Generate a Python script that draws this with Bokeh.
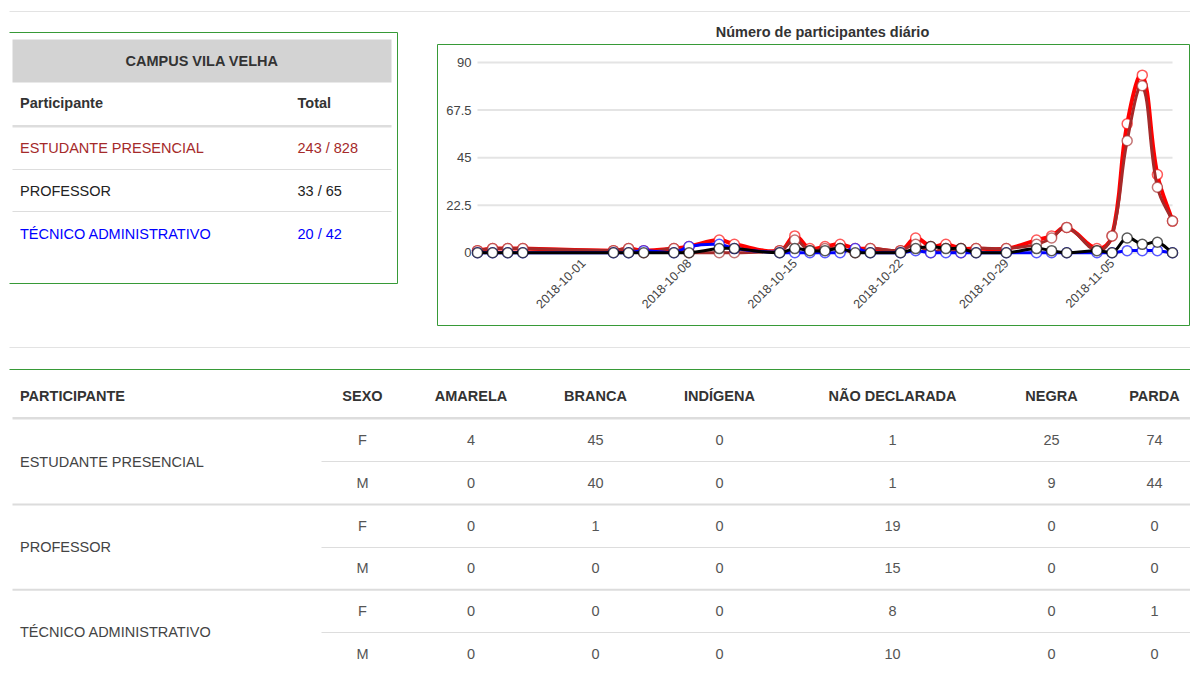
import math
from datetime import datetime
from bokeh.plotting import figure
from bokeh.models import (Range1d, LinearAxis, DatetimeAxis, FixedTicker,
                          NumeralTickFormatter, DatetimeTickFormatter)
from bokeh.core.properties import value
from bokeh.embed import file_html
from bokeh.resources import INLINE

# ---------------- data ----------------
campus_name = "CAMPUS VILA VELHA"
participants = ["ESTUDANTE PRESENCIAL", "PROFESSOR", "TÉCNICO ADMINISTRATIVO"]
present = [243, 33, 20]
enrolled = [828, 65, 42]

chart_title = "Número de participantes diário"
day_dates = ["2018-09-24", "2018-09-25", "2018-09-26", "2018-09-27", "2018-10-03",
             "2018-10-04", "2018-10-05", "2018-10-07", "2018-10-08", "2018-10-10",
             "2018-10-11", "2018-10-14", "2018-10-15", "2018-10-16", "2018-10-17",
             "2018-10-18", "2018-10-19", "2018-10-20", "2018-10-22", "2018-10-23",
             "2018-10-24", "2018-10-25", "2018-10-26", "2018-10-27", "2018-10-29",
             "2018-10-31", "2018-11-01", "2018-11-02", "2018-11-04", "2018-11-05",
             "2018-11-06", "2018-11-07", "2018-11-08", "2018-11-09"]
total_daily = [1, 2, 2, 2, 1, 2, 1, 2, 3, 6, 4, 1, 8, 2, 3, 4, 2, 2, 1, 7,
               3, 4, 2, 2, 2, 6, 8, 12, 2, 8, 61, 84, 37, 15]
estudante_daily = [1, 2, 2, 2, 1, 2, 0, 2, 0, 0, 0, 1, 6, 1, 2, 2, 0, 2, 1, 4,
                   0, 2, 0, 2, 2, 4, 7, 12, 1, 8, 53, 79, 31, 15]
professor_daily = [0, 0, 0, 0, 0, 0, 0, 0, 0, 2, 2, 0, 2, 1, 1, 2, 0, 0, 0, 2,
                   3, 2, 2, 0, 0, 2, 1, 0, 1, 0, 7, 4, 5, 0]
tecnico_daily = [0, 0, 0, 0, 0, 0, 1, 0, 3, 4, 2, 0, 0, 0, 0, 0, 2, 0, 0, 1,
                 0, 0, 0, 0, 0, 0, 0, 0, 0, 0, 1, 1, 1, 0]
y_ticks = [0, 22.5, 45, 67.5, 90]
x_tick_dates = ["2018-10-01", "2018-10-08", "2018-10-15", "2018-10-22",
                "2018-10-29", "2018-11-05"]

table_header = ["PARTICIPANTE", "SEXO", "AMARELA", "BRANCA", "INDÍGENA",
                "NÃO DECLARADA", "NEGRA", "PARDA"]
row_participant = ["ESTUDANTE PRESENCIAL", "ESTUDANTE PRESENCIAL", "PROFESSOR",
                   "PROFESSOR", "TÉCNICO ADMINISTRATIVO", "TÉCNICO ADMINISTRATIVO"]
row_sexo = ["F", "M", "F", "M", "F", "M"]
amarela = [4, 0, 0, 0, 0, 0]
branca = [45, 40, 1, 0, 0, 0]
indigena = [0, 0, 0, 0, 0, 0]
nao_declarada = [1, 1, 19, 15, 8, 10]
negra = [25, 9, 0, 0, 0, 0]
parda = [74, 44, 0, 0, 1, 0]

# ---------------- styles / layout ----------------
FONT = value("Liberation Sans")
FS = value("14.5px")
GREEN = "#379a37"
LINE_GREY = "#dddddd"
part_colors = ["#a52a2a", "#222222", "#0000ff"]

W, H = 1190, 686          # canvas size; canvas coordinates used for layout
TY = -5.5                 # text placement correction


def ms(s):
    return (datetime.strptime(s, "%Y-%m-%d") - datetime(1970, 1, 1)).total_seconds() * 1000.0


xs = [ms(d) for d in day_dates]
t0, t1 = xs[0], xs[-1]

# chart plot-area in canvas pixels
PX0, PX1 = 477.0, 1172.0
PY0, PY90 = 252.3, 62.0
px_per_ms = (PX1 - PX0) / (t1 - t0)
px_per_unit = (PY0 - PY90) / 90.0

p = figure(width=W, height=H, x_range=Range1d(0, W), y_range=Range1d(H, 0),
           output_backend="svg", toolbar_location=None, x_axis_location=None,
           y_axis_location=None, min_border=0, title=None)
p.grid.visible = False
p.outline_line_color = None
p.background_fill_color = "white"
p.border_fill_color = "white"

p.extra_x_ranges = {"date": Range1d(t0 - PX0 / px_per_ms, t1 + (W - PX1) / px_per_ms)}
p.extra_y_ranges = {"count": Range1d((PY0 - H) / px_per_unit, PY0 / px_per_unit)}

# page separators
p.segment(x0=[9, 9], y0=[11, 347], x1=[W, W], y1=[11, 347], line_color="#e3e3e3", line_width=1)

# ---------------- left summary table ----------------
p.segment(x0=[9, 397, 9], y0=[32, 32, 283], x1=[397, 397, 397], y1=[32, 283, 283],
          line_color=GREEN, line_width=1)
p.quad(left=[12], right=[391], top=[39], bottom=[82], fill_color="#d3d3d3", line_color=None)
p.text(x=[201.5], y=[65.5 + TY], text=[campus_name], text_font=FONT, text_font_size=FS,
       text_font_style="bold", text_color="#333333", text_align="center", text_baseline="alphabetic")
p.text(x=[19.5, 297], y=[108.2 + TY] * 2, text=["Participante", "Total"], text_font=FONT,
       text_font_size=FS, text_font_style="bold", text_color="#333333", text_baseline="alphabetic")
p.segment(x0=[12], y0=[125.7], x1=[391], y1=[125.7], line_color=LINE_GREY, line_width=2.5)
row_y = [152.7 + TY + 43 * i for i in range(len(participants))]
p.text(x=[19.5] * len(participants), y=row_y, text=participants, text_font=FONT, text_font_size=FS,
       text_color=part_colors, text_baseline="alphabetic")
p.text(x=[297] * len(participants), y=row_y,
       text=[f"{a} / {b}" for a, b in zip(present, enrolled)], text_font=FONT, text_font_size=FS,
       text_color=part_colors, text_baseline="alphabetic")
p.segment(x0=[12, 12], y0=[169, 211], x1=[391, 391], y1=[169, 211],
          line_color=LINE_GREY, line_width=1)

# ---------------- chart ----------------
p.segment(x0=[437, 1189, 1189, 437], y0=[44, 44, 325, 325],
          x1=[1189, 1189, 437, 437], y1=[44, 325, 325, 44],
          line_color=GREEN, line_width=1)
p.text(x=[822], y=[36.5 + TY], text=[chart_title], text_font=FONT, text_font_size=FS,
       text_font_style="bold", text_color="#333333", text_align="center", text_baseline="alphabetic")

p.segment(x0=[t0] * len(y_ticks), y0=y_ticks, x1=[t1] * len(y_ticks), y1=y_ticks,
          line_color="#e4e4e4", line_width=2, x_range_name="date", y_range_name="count")

yaxis = LinearAxis(x_range_name="date", y_range_name="count", fixed_location=t0,
                   ticker=FixedTicker(ticks=y_ticks), formatter=NumeralTickFormatter(format="0.[0]"))
yaxis.axis_line_color = None
yaxis.major_tick_line_color = None
yaxis.minor_tick_line_color = None
yaxis.major_label_standoff = 0
yaxis.major_label_text_font = "Liberation Sans"
yaxis.major_label_text_font_size = "13px"
yaxis.major_label_text_color = "#444444"
p.add_layout(yaxis, "left")

fmt = "%Y-%m-%d"
xaxis = DatetimeAxis(x_range_name="date", y_range_name="count", fixed_location=0,
                     ticker=FixedTicker(ticks=[ms(d) for d in x_tick_dates]),
                     formatter=DatetimeTickFormatter(days=fmt, months=fmt, years=fmt, hours=fmt,
                                                     hourmin=fmt, minutes=fmt, minsec=fmt,
                                                     seconds=fmt, milliseconds=fmt, microseconds=fmt))
xaxis.axis_line_color = None
xaxis.major_tick_line_color = None
xaxis.minor_tick_line_color = None
xaxis.major_label_orientation = math.pi / 4
xaxis.major_label_standoff = 2
xaxis.major_label_text_font = "Liberation Sans"
xaxis.major_label_text_font_size = "12.5px"
xaxis.major_label_text_color = "#444444"
p.add_layout(xaxis, "below")

TENSION = 0.4


def spline_segments(xv, yv):
    X = [(x - t0) * px_per_ms for x in xv]
    Y = [y * px_per_unit for y in yv]
    n = len(X)
    pcp, ncp = [], []
    xmax, ymax = (t1 - t0) * px_per_ms, 90 * px_per_unit
    for i in range(n):
        a, b = max(i - 1, 0), min(i + 1, n - 1)
        d01 = math.hypot(X[i] - X[a], Y[i] - Y[a])
        d12 = math.hypot(X[b] - X[i], Y[b] - Y[i])
        s = d01 + d12
        fa = TENSION * (d01 / s if s else 0)
        fb = TENSION * (d12 / s if s else 0)
        dx, dy = X[b] - X[a], Y[b] - Y[a]
        cp_prev = (X[i] - fa * dx, Y[i] - fa * dy)
        cp_next = (X[i] + fb * dx, Y[i] + fb * dy)
        clamp = lambda c: (min(max(c[0], 0), xmax), min(max(c[1], 0), ymax))
        pcp.append(clamp(cp_prev))
        ncp.append(clamp(cp_next))
    to_x = lambda v: t0 + v / px_per_ms
    to_y = lambda v: v / px_per_unit
    return dict(x0=xv[:-1], y0=yv[:-1], x1=xv[1:], y1=yv[1:],
                cx0=[to_x(c[0]) for c in ncp[:-1]], cy0=[to_y(c[1]) for c in ncp[:-1]],
                cx1=[to_x(c[0]) for c in pcp[1:]], cy1=[to_y(c[1]) for c in pcp[1:]])


# drawn bottom-to-top: total, estudante, técnico, professor
series = [(total_daily, "#ff0000", 4), (estudante_daily, "#a52a2a", 3),
          (tecnico_daily, "#0000ff", 3), (professor_daily, "#000000", 3)]
for vals, col, lw in series:
    seg = spline_segments(xs, vals)
    p.bezier(**seg, line_color=col, line_width=lw, line_cap="round",
             x_range_name="date", y_range_name="count")
    p.scatter(x=xs, y=vals, marker="circle", size=10, fill_color="white", line_color=col,
              line_alpha=0.65, line_width=1.5, x_range_name="date", y_range_name="count")

# ---------------- bottom table ----------------
p.segment(x0=[9], y0=[369], x1=[W], y1=[369], line_color=GREEN, line_width=1)
col_x = [19.5, 362, 470.5, 595, 719, 892, 1051, 1154]
header_y = 401.2 + TY
p.text(x=col_x[:1], y=[header_y], text=table_header[:1], text_font=FONT, text_font_size=FS,
       text_font_style="bold", text_color="#333333", text_baseline="alphabetic")
p.text(x=col_x[1:], y=[header_y] * (len(col_x) - 1), text=table_header[1:], text_font=FONT,
       text_font_size=FS, text_font_style="bold", text_color="#333333", text_align="center",
       text_baseline="alphabetic")
p.segment(x0=[12], y0=[417.7], x1=[W], y1=[417.7], line_color=LINE_GREY, line_width=2.5)

pitch = 42.66
row_base = [445.2 + pitch * k for k in range(len(row_sexo))]
rows_y = [b + TY for b in row_base]
groups = list(dict.fromkeys(row_participant))
group_y = [(rows_y[2 * g] + rows_y[2 * g + 1]) / 2 for g in range(len(groups))]
p.text(x=[19.5] * len(groups), y=group_y, text=groups, text_font=FONT, text_font_size=FS,
       text_color="#444444", text_baseline="alphabetic")
p.text(x=[col_x[1]] * len(row_sexo), y=rows_y, text=row_sexo, text_font=FONT, text_font_size=FS,
       text_color="#555555", text_align="center", text_baseline="alphabetic")
for ci, colvals in enumerate([amarela, branca, indigena, nao_declarada, negra, parda]):
    p.text(x=[col_x[ci + 2]] * len(colvals), y=rows_y, text=[str(v) for v in colvals],
           text_font=FONT, text_font_size=FS, text_color="#555555", text_align="center",
           text_baseline="alphabetic")

# separators between rows
part_lines = [round((row_base[k] + row_base[k + 1]) / 2 - 5.2) for k in range(0, len(row_base) - 1, 2)]
full_lines = [(row_base[k] + row_base[k + 1]) / 2 - 5.2 for k in range(1, len(row_base) - 1, 2)]
p.segment(x0=[321] * len(part_lines), y0=part_lines, x1=[W] * len(part_lines), y1=part_lines,
          line_color=LINE_GREY, line_width=1)
p.segment(x0=[12] * len(full_lines), y0=full_lines, x1=[W] * len(full_lines), y1=full_lines,
          line_color="#dcdcdc", line_width=2)

open("out.html", "w").write(file_html(p, INLINE))
